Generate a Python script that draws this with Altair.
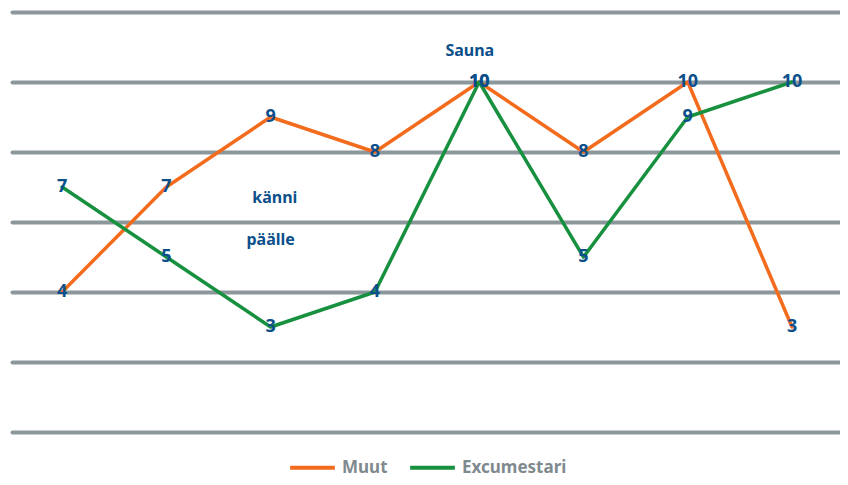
import altair as alt
import pandas as pd

# ---- data ----
idx = [0, 1, 2, 3, 4, 5, 6, 7]
muut = [4, 7, 9, 8, 10, 8, 10, 3]
excu = [7, 5, 3, 4, 10, 5, 9, 10]
series_names = ["Muut", "Excumestari"]
grid_values = [0, 2, 4, 6, 8, 10, 12]

ann_text = ["Sauna", "känni", "päälle"]
ann_x = [3.91, 2.04, 2.0]
ann_y = [10.9, 6.7, 5.5]

ORANGE = "#f36c1e"
GREEN = "#17903f"
BLUE = "#0c4f8b"
GRID = "#8b979b"
FONT = "Noto Sans"

df = pd.DataFrame({
    "i": idx * 2,
    "v": muut + excu,
    "s": ["Muut"] * len(idx) + ["Excumestari"] * len(idx),
})
ann = pd.DataFrame({"t": ann_text, "i": ann_x, "v": ann_y})

x = alt.X("i:Q", scale=alt.Scale(domain=[-0.48, 7.46], nice=False, zero=False), axis=None)
y = alt.Y(
    "v:Q",
    scale=alt.Scale(domain=[0, 12], nice=False),
    axis=alt.Axis(values=grid_values, grid=True, labels=False, ticks=False,
                  domain=False, title=None, gridColor=GRID, gridWidth=4,
                  gridCap="round", gridOpacity=1),
)

lines = alt.Chart(df).mark_line(strokeWidth=3.5, strokeCap="round", strokeJoin="round").encode(
    x=x, y=y,
    color=alt.Color(
        "s:N",
        scale=alt.Scale(domain=series_names, range=[ORANGE, GREEN]),
        sort=series_names,
        legend=alt.Legend(
            title=None, orient="none", legendX=276, legendY=431,
            direction="horizontal", symbolType="stroke", symbolSize=2000,
            symbolStrokeWidth=4, labelColor="#7f8a8f", labelFontSize=17,
            labelFont=FONT, labelFontWeight="bold", columnPadding=14,
            labelOffset=5,
        ),
    ),
)

labels = alt.Chart(df).mark_text(
    font=FONT, fontSize=18, fontWeight="bold", color=BLUE, baseline="middle"
).encode(x=x, y=y, text="v:Q")

notes = alt.Chart(ann).mark_text(
    font=FONT, fontSize=16, fontWeight="bold", color=BLUE, baseline="middle"
).encode(x=x, y=y, text="t:N")

chart = (lines + labels + notes).properties(
    width=828, height=420,
    padding={"left": 4, "top": 4, "right": 0, "bottom": 45},
    autosize="none",
).configure_view(strokeOpacity=0)

chart.save("out.html", embed_options={"renderer": "svg", "actions": False})
